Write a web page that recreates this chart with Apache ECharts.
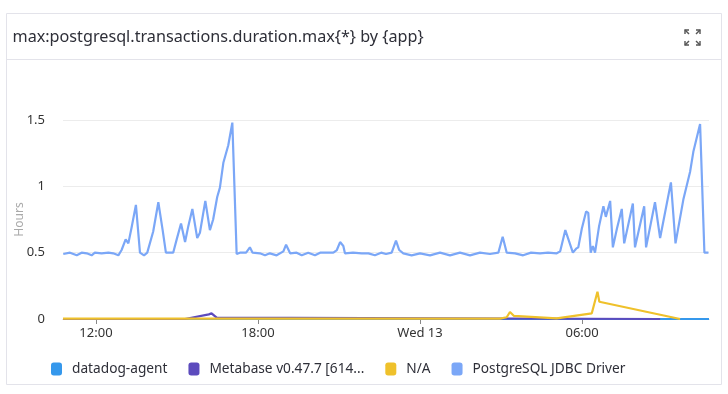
<!DOCTYPE html>
<html>
<head>
<meta charset="utf-8">
<script src="https://cdn.jsdelivr.net/npm/echarts@6/dist/echarts.min.js"></script>
<style>
html,body{margin:0;padding:0;background:#fff;}
#c{width:728px;height:394px;}
</style>
</head>
<body>
<div id="c"></div>
<script>
// Time in hours since Tue 00:00 (values > 24 are on Wed 13)
const xMin = 10.78, xMax = 34.7;
const tickHours = [12, 18, 24, 30];
const tickLabels = ['12:00', '18:00', 'Wed 13', '06:00'];
const yTicks = [0, 0.5, 1, 1.5];

const seriesNames = ['datadog-agent', 'Metabase v0.47.7 [614...', 'N/A', 'PostgreSQL JDBC Driver'];

const agentTimes = [10.78, 34.7];
const agentValues = [0, 0];

const metabaseTimes = [10.78, 15.3, 15.37, 16.18, 16.28, 16.47, 16.5, 32.89];
const metabaseValues = [0, 0, 0.01, 0.035, 0.043, 0.01, 0, 0];

const naTimes = [10.78, 26.96, 27.21, 27.33, 27.48, 29.06, 30.36, 30.57, 30.64, 33.63];
const naValues = [0.003, 0.003, 0.013, 0.053, 0.023, 0.005, 0.043, 0.206, 0.13, 0];

const jdbcTimes = [10.79, 11.04, 11.29, 11.47, 11.66, 11.84, 11.96, 12.21, 12.46, 12.64, 12.83, 12.95, 13.01, 13.1, 13.2, 13.32, 13.48, 13.63, 13.78, 13.9, 14.12, 14.31, 14.47, 14.59, 14.86, 14.99, 15.15, 15.3, 15.42, 15.57, 15.75, 15.85, 16.05, 16.22, 16.34, 16.49, 16.59, 16.72, 16.9, 17.05, 17.21, 17.33, 17.56, 17.7, 17.8, 18.07, 18.26, 18.44, 18.69, 18.94, 19.04, 19.19, 19.43, 19.62, 19.86, 20.11, 20.3, 20.79, 20.92, 21.04, 21.16, 21.22, 21.52, 21.84, 22.09, 22.33, 22.56, 22.74, 22.95, 23.11, 23.23, 23.38, 23.69, 24.0, 24.37, 24.74, 25.11, 25.48, 25.85, 26.22, 26.59, 26.9, 27.06, 27.21, 27.52, 27.82, 28.11, 28.44, 28.74, 29.06, 29.19, 29.38, 29.66, 29.78, 29.86, 29.99, 30.15, 30.23, 30.32, 30.4, 30.48, 30.63, 30.79, 30.88, 31.04, 31.14, 31.29, 31.47, 31.56, 31.88, 31.96, 32.3, 32.37, 32.7, 32.89, 33.29, 33.46, 33.75, 34.0, 34.12, 34.37, 34.53, 34.68];
const jdbcValues = [0.49, 0.5, 0.48, 0.5, 0.495, 0.48, 0.5, 0.495, 0.5, 0.495, 0.48, 0.52, 0.51, 0.6, 0.57, 0.69, 0.86, 0.5, 0.48, 0.5, 0.66, 0.88, 0.67, 0.5, 0.5, 0.6, 0.72, 0.58, 0.7, 0.83, 0.61, 0.65, 0.89, 0.67, 0.75, 0.92, 0.99, 1.18, 1.31, 1.48, 0.49, 0.5, 0.5, 0.54, 0.5, 0.495, 0.48, 0.495, 0.48, 0.51, 0.56, 0.495, 0.5, 0.48, 0.5, 0.48, 0.5, 0.5, 0.52, 0.58, 0.55, 0.495, 0.5, 0.495, 0.495, 0.48, 0.5, 0.49, 0.5, 0.59, 0.52, 0.495, 0.48, 0.495, 0.48, 0.5, 0.48, 0.5, 0.48, 0.5, 0.49, 0.5, 0.62, 0.5, 0.495, 0.48, 0.5, 0.495, 0.5, 0.495, 0.51, 0.67, 0.5, 0.53, 0.54, 0.68, 0.81, 0.8, 0.5, 0.55, 0.5, 0.7, 0.85, 0.77, 0.89, 0.54, 0.68, 0.83, 0.57, 0.87, 0.54, 0.85, 0.54, 0.88, 0.61, 1.03, 0.57, 0.9, 1.11, 1.26, 1.47, 0.5, 0.5];

const colors = ['#3598ec', '#5c4bbd', '#efc12b', '#7ba7f7'];

function zip(ts, vs) { return ts.map((t, i) => [t, vs[i]]); }

const FONT = '"Noto Sans", "Open Sans", sans-serif';
const chart = echarts.init(document.getElementById('c'), null, { renderer: 'canvas' });

function seriesFor(i, ts, vs) {
  return {
    name: seriesNames[i],
    type: 'line',
    data: zip(ts, vs),
    showSymbol: false,
    symbol: 'none',
    lineStyle: { width: 2.2, color: colors[i] },
    itemStyle: { color: colors[i] },
    animation: false,
    clip: false
  };
}

const iconStroke = { stroke: '#555', lineWidth: 1.4, fill: null };
chart.setOption({
  animation: false,
  backgroundColor: '#fff',
  textStyle: { fontFamily: FONT },
  graphic: [
    { type: 'rect', shape: { x: 6.5, y: 13.5, width: 715, height: 371 }, style: { fill: '#fff', stroke: '#e3e3ea', lineWidth: 1 }, z: -10 },
    { type: 'line', shape: { x1: 7, y1: 59.5, x2: 721, y2: 59.5 }, style: { stroke: '#e3e3ea', lineWidth: 1 }, z: -9 },
    { type: 'text', x: 12.5, y: 37, style: { text: 'max:postgresql.transactions.duration.max{*} by {app}', fill: '#2e2f38', font: '16.2px ' + FONT, verticalAlign: 'middle' } },
    { type: 'polyline', shape: { points: [[685, 34], [685, 30], [689, 30]] }, style: iconStroke },
    { type: 'line', shape: { x1: 685, y1: 30, x2: 689, y2: 34 }, style: iconStroke },
    { type: 'polyline', shape: { points: [[696, 30], [700, 30], [700, 34]] }, style: iconStroke },
    { type: 'line', shape: { x1: 700, y1: 30, x2: 696, y2: 34 }, style: iconStroke },
    { type: 'polyline', shape: { points: [[685, 41], [685, 45], [689, 45]] }, style: iconStroke },
    { type: 'line', shape: { x1: 685, y1: 45, x2: 689, y2: 41 }, style: iconStroke },
    { type: 'polyline', shape: { points: [[696, 45], [700, 45], [700, 41]] }, style: iconStroke },
    { type: 'line', shape: { x1: 700, y1: 45, x2: 696, y2: 41 }, style: iconStroke }
  ],
  legend: {
    left: 46,
    top: 357,
    itemWidth: 11,
    itemHeight: 13,
    itemGap: 21,
    icon: 'roundRect',
    textStyle: { fontSize: 13.7, color: '#2e2f38', fontFamily: FONT, padding: [0, 0, 0, 5] },
    data: seriesNames.map((n, i) => ({ name: n, itemStyle: { color: colors[i] } }))
  },
  grid: { left: 63, right: 19, top: 120, bottom: 75, containLabel: false, outerBoundsMode: 'none' },
  xAxis: {
    type: 'value',
    min: xMin,
    max: xMax,
    axisLine: { show: true, lineStyle: { color: '#ccc' } },
    axisTick: { show: true, length: 5, lineStyle: { color: '#888' }, customValues: tickHours },
    splitLine: { show: false },
    axisLabel: {
      customValues: tickHours,
      color: '#333',
      fontSize: 13,
      margin: 8,
      fontFamily: FONT,
      formatter: function (v) {
        const i = tickHours.indexOf(Math.round(v));
        return i >= 0 ? tickLabels[i] : '';
      }
    }
  },
  yAxis: {
    type: 'value',
    min: 0,
    max: 1.5,
    interval: 0.5,
    name: 'Hours',
    nameLocation: 'middle',
    nameGap: 37,
    nameRotate: 90,
    nameMoveOverlap: false,
    nameTextStyle: { color: '#aaa', fontSize: 12, fontFamily: FONT },
    axisLine: { show: false },
    axisTick: { show: false },
    splitLine: { show: true, lineStyle: { color: '#ececec', width: 1 } },
    axisLabel: { color: '#333', fontSize: 13, margin: 18, fontFamily: FONT, formatter: v => String(v) }
  },
  series: [
    seriesFor(0, agentTimes, agentValues),
    seriesFor(1, metabaseTimes, metabaseValues),
    seriesFor(2, naTimes, naValues),
    seriesFor(3, jdbcTimes, jdbcValues)
  ]
});
</script>
</body>
</html>
